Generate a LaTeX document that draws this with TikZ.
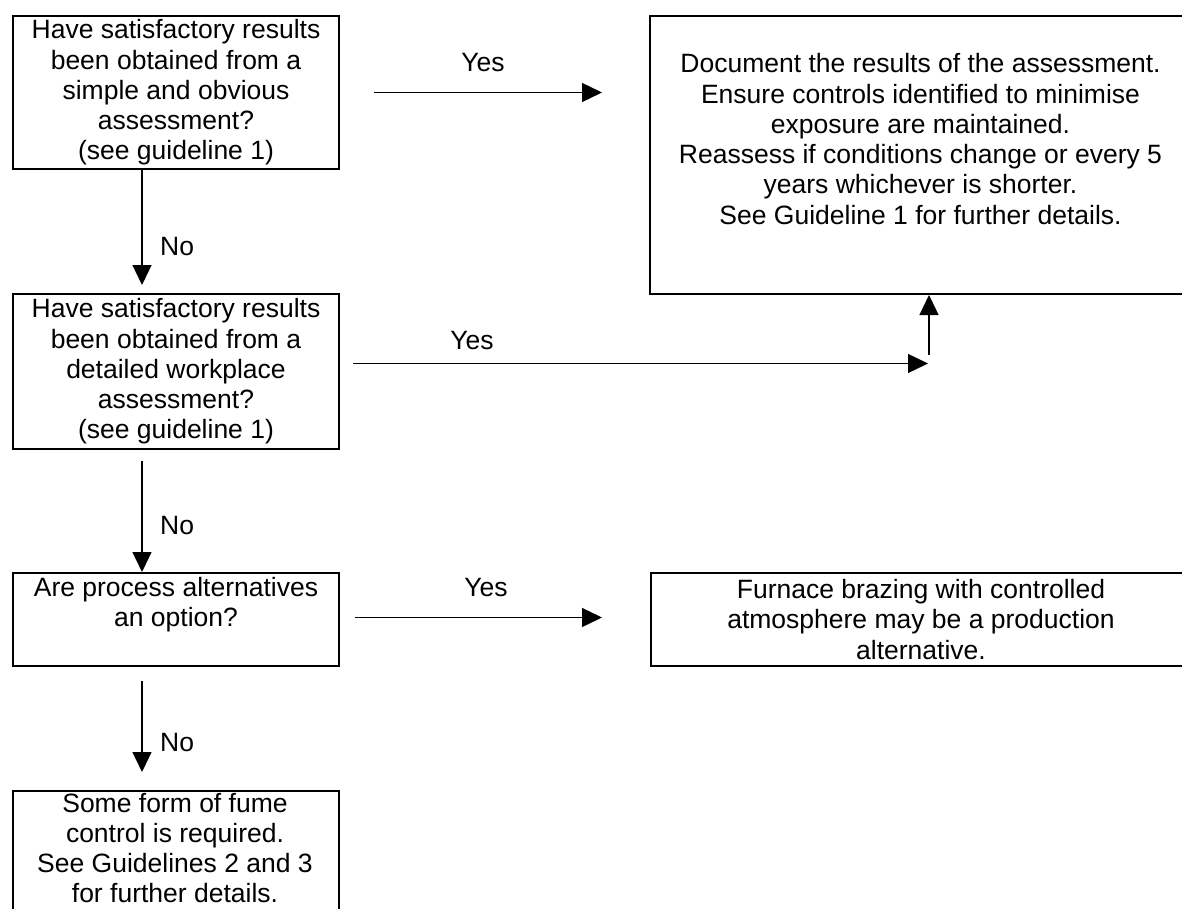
\documentclass[tikz,border=0pt]{standalone}
\usepackage{fontspec}
\setmainfont{Liberation Sans}
\usetikzlibrary{arrows.meta,calc}
\begin{document}
\begin{tikzpicture}[x=1pt,y=-1pt,
  box/.style={draw, line width=2pt, inner sep=0, anchor=north west},
  txt/.style={align=center, inner sep=0, font=\fontsize{26.5pt}{30.3pt}\selectfont},
  arr/.style={line width=1.3pt, -{Triangle[length=20pt,width=19pt]}},
  lbl/.style={font=\fontsize{26.5pt}{30.3pt}\selectfont, inner sep=0}]
\useasboundingbox (0,0) rectangle (1182,909);
% boxes
\node[box, minimum width=326pt, minimum height=153pt] (b1) at (12,15) {};
\node[box, minimum width=326pt, minimum height=155pt] (b2) at (12,293) {};
\node[box, minimum width=326pt, minimum height=93pt] (b3) at (12,572) {};
\node[box, minimum width=326pt, minimum height=150pt] (b4) at (12,790) {};
\node[box, minimum width=541pt, minimum height=278pt] (r1) at (649,15) {};
\node[box, minimum width=540pt, minimum height=93pt] (f) at (650,572) {};
% texts
\node[txt] (b1t) at (b1.center) {Have satisfactory results\\been obtained from a\\simple and obvious\\assessment?\\(see guideline 1)};
\node[txt] (b2t) at (b2.center) {Have satisfactory results\\been obtained from a\\detailed workplace\\assessment?\\(see guideline 1)};
\node[txt] (b3t) at ($(b3.center)+(0,-15)$) {Are process alternatives\\an option?};
\node[txt] (b4t) at (175,848) {Some form of fume\\control is required.\\See Guidelines 2 and 3\\for further details.};
\node[txt] (r1t) at ($(r1.center)+(0,-16)$) {Document the results of the assessment.\\Ensure controls identified to minimise\\exposure are maintained.\\Reassess if conditions change or every 5\\years whichever is shorter.\\See Guideline 1 for further details.};
\node[txt] (ft) at (f.center) {Furnace brazing with controlled\\atmosphere may be a production\\alternative.};
% connectors
\draw[arr] ($(b1.east)+(34,0)$) -- ($(b1.east -| r1.west)+(-47,0)$);
\node[lbl] (y1) at (483,63) {Yes};
\draw[arr] ($(b1.south west)+(130,0)$) -- ($(b2.north west)+(130,-8)$);
\node[lbl, anchor=west] (n1) at (160,247) {No};
\draw[arr] ($(b2.south west)+(130,11)$) -- ($(b3.north west)+(130,0)$);
\node[lbl, anchor=west] (n2) at (160,526) {No};
\draw[arr] ($(b3.south west)+(130,14)$) -- ($(b4.north west)+(130,-18)$);
\node[lbl, anchor=west] (n3) at (160,743) {No};
\draw[arr] ($(b2.east)+(13,-8)$) -- ($(b2.east -| r1.south west)+(279,-8)$);
\node[lbl] (y2) at (472,341) {Yes};
\draw[arr] ($(r1.south west)+(280,60)$) -- ($(r1.south west)+(280,0)$);
\draw[arr] ($(b3.east)+(15,-2)$) -- ($(b3.east -| f.west)+(-48,-2)$);
\node[lbl] (y3) at (486,588) {Yes};
\end{tikzpicture}
\end{document}
